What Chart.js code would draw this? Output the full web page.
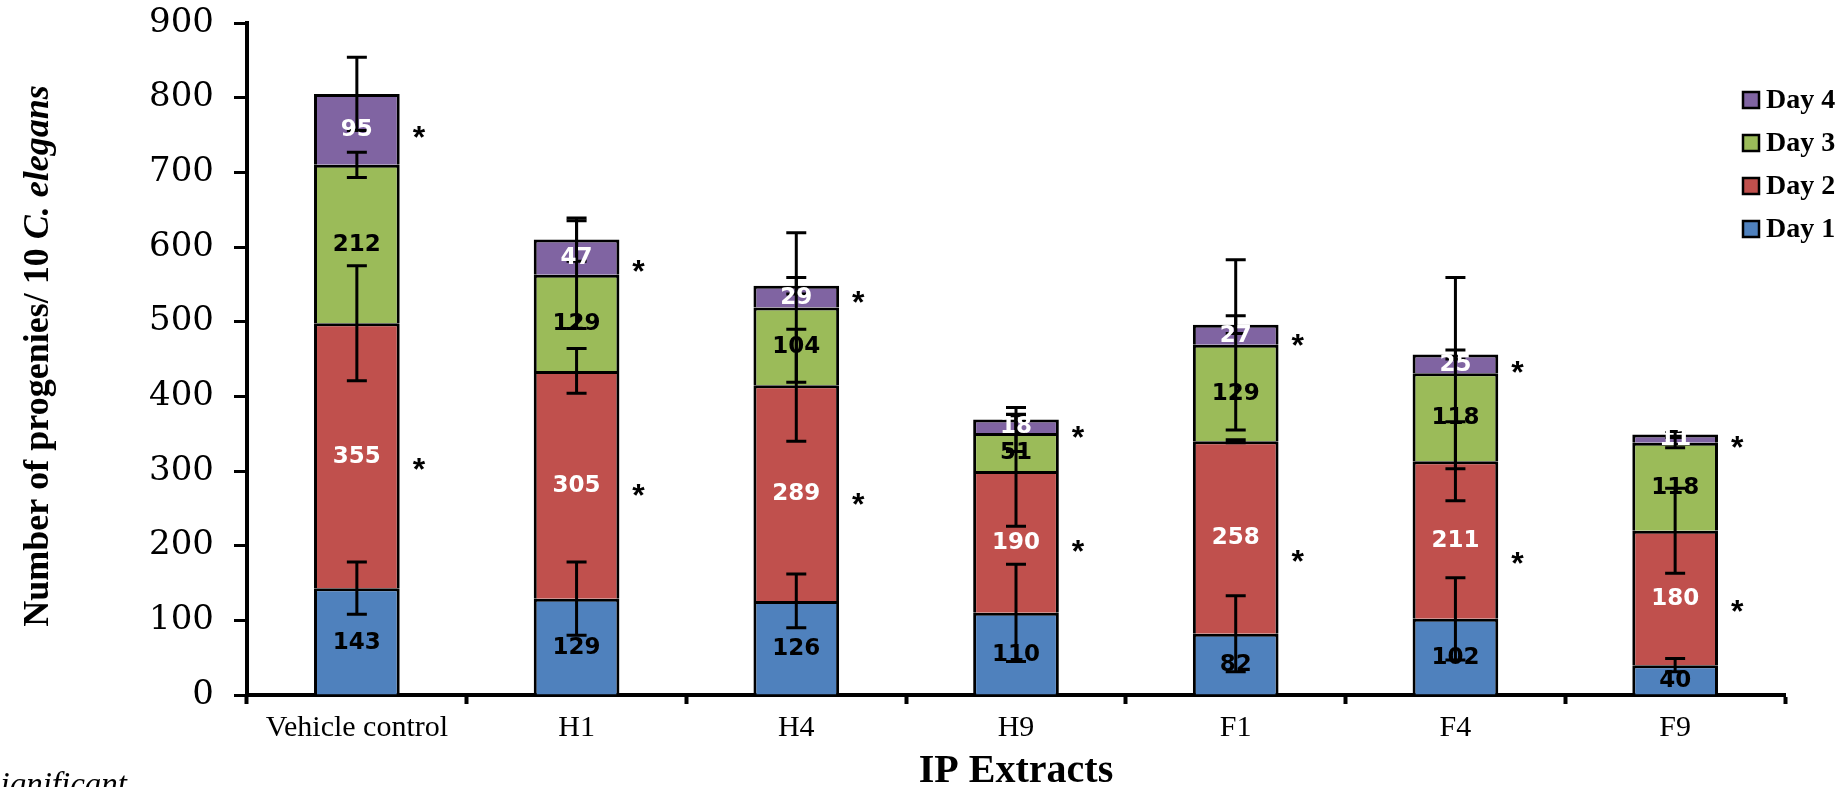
<!DOCTYPE html>
<html>
<head>
<meta charset="utf-8">
<script src="https://cdn.jsdelivr.net/npm/chart.js@4.4.1/dist/chart.umd.min.js"></script>
<style>
  body { margin: 0; background: #fff; }
  #wrap { width: 1846px; height: 787px; position: relative; }
</style>
</head>
<body>
<div id="wrap"><canvas id="progeny-bar"></canvas></div>
<script>
// values
const categories = ["Vehicle control", "H1", "H4", "H9", "F1", "F4", "F9"];
const day1 = [143, 129, 126, 110, 82, 102, 40];
const day2 = [355, 305, 289, 190, 258, 211, 180];
const day3 = [212, 129, 104, 51, 129, 118, 118];
const day4 = [95, 47, 29, 18, 27, 25, 11];
// error bars (+/-) for each day
const err1 = [35, 49, 36, 65, 51, 55, 9];
const err2 = [77, 30, 75, 74, 2, 53, 57];
const err3 = [17, 72, 100, 25, 114, 128, 7];
const err4 = [49, 29, 11, 16, 12, 6, 4];
// where the significance asterisks sit (in axis units)
const starDay2 = [311, 276, 264, 200, 187, 185, 120];
const starDay4 = [755, 575, 534, 353, 476, 441, 340];
const yTicks = [0, 100, 200, 300, 400, 500, 600, 700, 800, 900];

const errors = [err1, err2, err3, err4];
const labelColors = ["#000", "#fff", "#000", "#fff"];

// error bars, value labels and asterisks on top of the bars
const overlayPlugin = {
  id: "overlay",
  afterDatasetsDraw(chart) {
    const c = chart.ctx;
    const x = chart.scales.x;
    const y = chart.scales.y;
    const sets = chart.data.datasets;
    c.save();
    c.strokeStyle = "#000";
    c.lineWidth = 3;
    for (let i = 0; i < categories.length; i++) {
      const px = x.getPixelForValue(i);
      let top = 0;
      for (let k = 0; k < sets.length; k++) {
        top += sets[k].data[i];
        const e = errors[k][i];
        const y1 = y.getPixelForValue(top + e);
        const y2 = y.getPixelForValue(top - e);
        c.beginPath();
        c.moveTo(px, y1);
        c.lineTo(px, y2);
        c.moveTo(px - 10, y1);
        c.lineTo(px + 10, y1);
        c.moveTo(px - 10, y2);
        c.lineTo(px + 10, y2);
        c.stroke();
      }
    }
    c.font = "bold 23px 'DejaVu Sans'";
    c.textAlign = "center";
    c.textBaseline = "middle";
    for (let i = 0; i < categories.length; i++) {
      const px = x.getPixelForValue(i);
      let base = 0;
      for (let k = 0; k < sets.length; k++) {
        const v = sets[k].data[i];
        c.fillStyle = labelColors[k];
        c.fillText(String(v), px, y.getPixelForValue(base + v / 2) + 1);
        base += v;
      }
    }
    c.fillStyle = "#000";
    c.font = "bold 32px 'Liberation Sans'";
    for (let i = 0; i < categories.length; i++) {
      const px = x.getPixelForValue(i) + 62;
      c.fillText("*", px, y.getPixelForValue(starDay2[i]) + 8);
      c.fillText("*", px, y.getPixelForValue(starDay4[i]) + 8);
    }
    c.restore();
  },
  afterDraw(chart) {
    const c = chart.ctx;
    c.save();
    c.fillStyle = "#000";
    // legend, Day 4 on top
    const sets = chart.data.datasets.slice().reverse();
    c.font = "bold 28px 'Liberation Serif'";
    c.textBaseline = "middle";
    c.textAlign = "left";
    sets.forEach((ds, n) => {
      const cy = 100 + n * 43;
      c.fillStyle = ds.backgroundColor;
      c.fillRect(1743, cy - 8, 16, 16);
      c.strokeStyle = "#000";
      c.lineWidth = 2.5;
      c.strokeRect(1743, cy - 8, 16, 16);
      c.fillStyle = "#000";
      c.fillText(ds.label, 1766, cy + 1);
    });
    // x title
    c.textAlign = "center";
    c.textBaseline = "alphabetic";
    c.font = "bold 40px 'Liberation Serif'";
    c.fillText("IP Extracts", 1016, 782);
    // y title with italic species name
    c.translate(48, 356);
    c.rotate(-Math.PI / 2);
    const partA = "Number of progenies/ 10 ";
    const partB = "C. elegans";
    const fontA = "bold 36px 'Liberation Serif'";
    const fontB = "italic bold 36px 'Liberation Serif'";
    c.font = fontA;
    const wA = c.measureText(partA).width;
    c.font = fontB;
    const wB = c.measureText(partB).width;
    c.textAlign = "left";
    c.font = fontA;
    c.fillText(partA, -(wA + wB) / 2, 0);
    c.font = fontB;
    c.fillText(partB, -(wA + wB) / 2 + wA, 0);
    c.restore();
    // footnote cut off at the left edge
    c.save();
    c.fillStyle = "#000";
    c.font = "italic 33px 'Liberation Serif'";
    c.textAlign = "right";
    c.fillText("*significant", 127, 795);
    c.restore();
  },
};

const ctx = document.querySelector("#progeny-bar");
new Chart(ctx, {
  type: "bar",
  data: {
    labels: categories,
    datasets: [
      { label: "Day 1", data: day1, backgroundColor: "#4F81BD" },
      { label: "Day 2", data: day2, backgroundColor: "#C0504D" },
      { label: "Day 3", data: day3, backgroundColor: "#9BBB59" },
      { label: "Day 4", data: day4, backgroundColor: "#8064A2" },
    ].map((d) => ({
      ...d,
      borderColor: "#000",
      borderWidth: 3,
      barPercentage: 0.39,
      categoryPercentage: 1,
    })),
  },
  options: {
    responsive: true,
    maintainAspectRatio: false,
    animation: false,
    layout: { padding: { top: 23, right: 61, left: 0, bottom: 0 } },
    plugins: {
      legend: { display: false },
      tooltip: { enabled: false },
    },
    scales: {
      x: {
        stacked: true,
        grid: {
          drawOnChartArea: false,
          tickLength: 9,
          tickWidth: 4,
          tickColor: "#000",
        },
        border: { color: "#000", width: 4 },
        ticks: {
          color: "#000",
          padding: 6,
          font: { family: "Liberation Serif", size: 30 },
        },
        afterFit: (scale) => {
          scale.height = 92;
        },
      },
      y: {
        stacked: true,
        min: 0,
        max: 900,
        afterBuildTicks: (scale) => {
          scale.ticks = yTicks.map((v) => ({ value: v }));
        },
        grid: {
          drawOnChartArea: false,
          tickLength: 13,
          tickWidth: 3,
          tickColor: "#000",
        },
        border: { color: "#000", width: 4 },
        ticks: {
          color: "#000",
          padding: 20,
          font: { family: "DejaVu Serif", size: 34 },
        },
        afterFit: (scale) => {
          scale.width = 247;
          scale.paddingTop = 0;
          scale.paddingBottom = 0;
        },
      },
    },
  },
  plugins: [overlayPlugin],
});
</script>
</body>
</html>
